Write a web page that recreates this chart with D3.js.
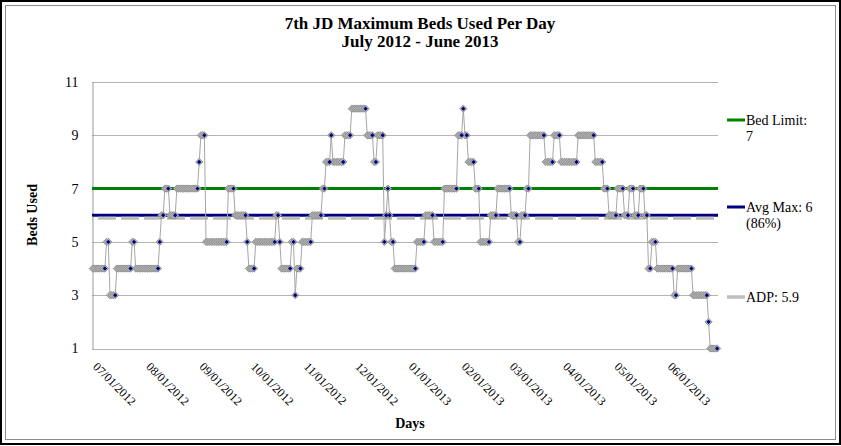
<!DOCTYPE html>
<html>
<head>
<meta charset="utf-8">
<script src="https://cdn.jsdelivr.net/npm/d3@7"></script>
<style>
  body { margin: 0; background: #fff; }
  text { font-family: "Liberation Serif", "Times New Roman", serif; fill: #000; }
</style>
</head>
<body>
<div id="chart"></div>
<script>
// max beds used, one value per day from 07/01/2012 to 06/30/2013
var maxBeds = [
  4,4,4,4,4,4,4,4,5,5,3,3,3,3,4,4,4,4,4,4,4,4,4,5,5,4,4,4,4,4,4,4,4,4,4,4,4,4,4,5,
  6,6,7,7,7,6,6,6,6,7,7,7,7,7,7,7,7,7,7,7,7,7,8,9,9,9,5,5,5,5,5,5,5,5,5,5,5,5,5,
  7,7,7,7,6,6,6,6,6,6,6,5,4,4,4,4,5,5,5,5,5,5,5,5,5,5,5,5,6,6,5,4,4,4,4,4,4,5,5,3,4,4,4,
  5,5,5,5,5,5,6,6,6,6,6,6,7,7,8,8,8,9,8,8,8,8,8,8,8,9,9,9,9,10,10,10,10,10,10,10,10,10,9,9,9,9,8,8,9,9,9,9,
  5,6,7,6,5,5,4,4,4,4,4,4,4,4,4,4,4,4,4,5,5,5,5,5,6,6,6,6,6,5,5,5,5,5,5,7,7,7,7,7,7,7,7,9,9,9,10,9,9,
  8,8,8,8,7,7,7,5,5,5,5,5,5,6,6,6,6,7,7,7,7,7,7,7,7,6,6,6,6,5,5,6,6,6,7,7,9,9,9,9,9,9,9,9,9,8,8,8,8,8,9,9,9,9,
  8,8,8,8,8,8,8,8,8,8,9,9,9,9,9,9,9,9,9,9,8,8,8,8,8,7,7,7,6,6,6,6,6,7,7,7,7,6,6,6,7,7,7,6,6,6,7,7,7,6,6,
  4,4,5,5,5,4,4,4,4,4,4,4,4,4,4,3,3,4,4,4,4,4,4,4,4,4,3,3,3,3,3,3,3,3,3,2,1,1,1,1,1
];
var firstDay = "07/01/2012";

// x axis labels, y axis ticks
var monthLabels = ["07/01/2012", "08/01/2012", "09/01/2012", "10/01/2012", "11/01/2012", "12/01/2012",
  "01/01/2013", "02/01/2013", "03/01/2013", "04/01/2013", "05/01/2013", "06/01/2013"];
var yTicks = [1, 3, 5, 7, 9, 11];

// reference lines
var bedLimit = 7;
var avgMax = 6;
var adp = 5.9;
var legendText = [["Bed Limit:", "7"], ["Avg Max: 6", "(86%)"], ["ADP: 5.9"]];

var width = 841, height = 446;
var plotLeft = 92, plotRight = 718, plotTop = 82, plotBottom = 348.5;

var parseDay = d3.utcParse("%m/%d/%Y");
var fmtDay = d3.utcFormat("%m/%d/%Y");
var start = parseDay(firstDay);
var days = maxBeds.map(function (d, i) { return d3.utcDay.offset(start, i); });

var svg = d3.select("#chart").append("svg")
  .attr("width", width)
  .attr("height", height);

// frame
svg.append("rect")
  .attr("x", 1).attr("y", 1)
  .attr("width", width - 2).attr("height", height - 3)
  .attr("fill", "#fff")
  .attr("stroke", "#000")
  .attr("stroke-width", 2);
svg.append("rect")
  .attr("x", 5.5).attr("y", 5.5)
  .attr("width", width - 11).attr("height", height - 12)
  .attr("fill", "none")
  .attr("stroke", "#8c8c8c");

var x = d3.scaleUtc()
  .domain([d3.utcHour.offset(days[0], -12), d3.utcHour.offset(days[days.length - 1], 12)])
  .range([plotLeft, plotRight]);

var y = d3.scaleLinear()
  .domain([1, 11])
  .range([plotBottom, plotTop]);

// gridlines
svg.selectAll(".grid").data(yTicks).enter().append("line")
  .attr("class", "grid")
  .attr("x1", plotLeft).attr("x2", plotRight)
  .attr("y1", function (d) { return Math.round(y(d)) + 0.5; })
  .attr("y2", function (d) { return Math.round(y(d)) + 0.5; })
  .attr("stroke", "#b4b4b4");

// y axis
var yAxis = svg.append("g")
  .attr("transform", "translate(" + (plotLeft + 0.5) + ",0)")
  .call(d3.axisLeft(y).tickValues(yTicks).tickSize(0).tickPadding(14));
yAxis.select(".domain").attr("stroke", "#999");
yAxis.selectAll("text")
  .style("font-size", "14px")
  .style("font-family", "'Liberation Serif', serif");

// x axis
var xAxis = svg.append("g")
  .attr("transform", "translate(0," + plotBottom + ")")
  .call(d3.axisBottom(x)
    .tickValues(monthLabels.map(parseDay))
    .tickFormat(fmtDay)
    .tickSize(0));
xAxis.select(".domain").remove();
xAxis.selectAll("text")
  .attr("y", 0).attr("dy", 0)
  .attr("text-anchor", "start")
  .attr("transform", "translate(-1,19) rotate(45)")
  .style("font-size", "12px")
  .style("font-family", "'Liberation Serif', serif");

// reference lines
svg.append("line")
  .attr("x1", plotLeft).attr("x2", plotRight)
  .attr("y1", y(bedLimit)).attr("y2", y(bedLimit))
  .attr("stroke", "#008000")
  .attr("stroke-width", 3);
svg.append("line")
  .attr("x1", plotLeft).attr("x2", plotRight)
  .attr("y1", y(avgMax)).attr("y2", y(avgMax))
  .attr("stroke", "#000080")
  .attr("stroke-width", 3);
svg.append("line")
  .attr("x1", plotLeft).attr("x2", plotRight)
  .attr("y1", y(adp)).attr("y2", y(adp))
  .attr("stroke", "#9a9a9a")
  .attr("stroke-width", 3)
  .attr("stroke-dasharray", "18,5")
  .attr("stroke-dashoffset", 17);
svg.append("line")
  .attr("x1", plotLeft).attr("x2", plotRight)
  .attr("y1", y(adp)).attr("y2", y(adp))
  .attr("stroke", "#e2e2e2")
  .attr("stroke-width", 1)
  .attr("stroke-dasharray", "18,5")
  .attr("stroke-dashoffset", 17);

// daily line
var line = d3.line()
  .x(function (d, i) { return x(days[i]); })
  .y(function (d) { return y(d); });

svg.append("path")
  .datum(maxBeds)
  .attr("d", line)
  .attr("fill", "none")
  .attr("stroke", "#a6a6a6")
  .attr("stroke-width", 1);

function diamond(r) {
  return "M0," + (-r) + "L" + r + ",0L0," + r + "L" + (-r) + ",0Z";
}

// gray markers for every day
svg.selectAll(".mark").data(maxBeds).enter().append("path")
  .attr("class", "mark")
  .attr("d", diamond(3.6))
  .attr("transform", function (d, i) { return "translate(" + x(days[i]) + "," + y(d) + ")"; })
  .attr("fill", "#bdbdbd")
  .attr("stroke", "#8a8a8a")
  .attr("stroke-width", 0.9);

// navy centre left visible on the last day of each run
var runEnds = maxBeds.map(function (d, i) { return { v: d, i: i }; })
  .filter(function (p) { return p.i === maxBeds.length - 1 || maxBeds[p.i + 1] !== p.v; });

svg.selectAll(".dot").data(runEnds).enter().append("path")
  .attr("class", "dot")
  .attr("d", diamond(2.2))
  .attr("transform", function (p) { return "translate(" + x(days[p.i]) + "," + y(p.v) + ")"; })
  .attr("fill", "#000080");

// titles
svg.append("text")
  .attr("x", 420).attr("y", 29)
  .attr("text-anchor", "middle")
  .style("font-size", "17px").style("font-weight", "bold")
  .text("7th JD Maximum Beds Used Per Day");
svg.append("text")
  .attr("x", 420).attr("y", 47)
  .attr("text-anchor", "middle")
  .style("font-size", "17px").style("font-weight", "bold")
  .text("July 2012 - June 2013");

svg.append("text")
  .attr("transform", "translate(37,215) rotate(-90)")
  .attr("text-anchor", "middle")
  .style("font-size", "14px").style("font-weight", "bold")
  .text("Beds Used");

svg.append("text")
  .attr("x", 410).attr("y", 428)
  .attr("text-anchor", "middle")
  .style("font-size", "14px").style("font-weight", "bold")
  .text("Days");

// legend
var legendY = [120, 207, 297];
var legendColor = ["#008000", "#000080", "#9a9a9a"];

legendText.forEach(function (lines, k) {
  var g = svg.append("g").attr("transform", "translate(727," + legendY[k] + ")");
  g.append("line")
    .attr("x1", 0).attr("x2", 18)
    .attr("stroke", legendColor[k])
    .attr("stroke-width", 3);
  if (k === 2) {
    g.append("line")
      .attr("x1", 0).attr("x2", 18)
      .attr("stroke", "#e2e2e2")
      .attr("stroke-width", 1);
  }
  g.selectAll("text").data(lines).enter().append("text")
    .attr("x", 19)
    .attr("y", function (d, j) { return 5 + j * 16; })
    .style("font-size", "14px")
    .text(function (d) { return d; });
});
</script>
</body>
</html>
